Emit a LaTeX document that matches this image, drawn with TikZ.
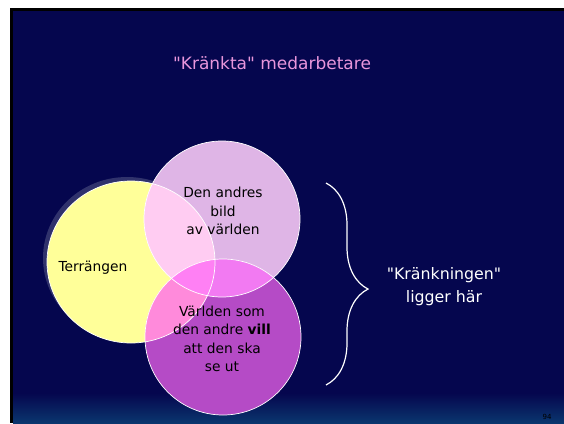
\documentclass[tikz,border=0pt]{standalone}
\usepackage{fontspec}
\setmainfont{DejaVu Sans}
\usepackage{xcolor}
\usepackage{tikz}
\usetikzlibrary{positioning,calc,decorations.pathreplacing}

\definecolor{slidebg}{RGB}{5,6,78}
\definecolor{slidebot}{RGB}{10,54,110}
\definecolor{titlepink}{RGB}{232,150,220}
\definecolor{terrain}{RGB}{255,255,153}
\definecolor{lavender}{RGB}{223,181,230}
\definecolor{wish}{RGB}{181,75,198}
\definecolor{terrlav}{RGB}{255,204,242}
\definecolor{lavwish}{RGB}{242,122,242}
\definecolor{terrwish}{RGB}{255,138,219}
\definecolor{allthree}{RGB}{255,128,244}
\definecolor{shadowc}{RGB}{48,50,108}

\begin{document}
\begin{tikzpicture}[x=1pt,y=-1pt,
    txt/.style={align=center, text=black, font=\fontsize{13.8}{18.5}\selectfont},
    bigtxt/.style={align=center, text=white, font=\fontsize{15.8}{23}\selectfont},
    rim/.style={draw=white, line width=0.7pt},
    bracestyle/.style={draw=white, line width=1.2pt, decorate,
        decoration={brace, amplitude=42pt, aspect=0.525}}]
            \def\Rx{84pt}
            \def\Ry{81pt}
            \def\R{78pt}
            \useasboundingbox (0,0) rectangle (564,423);
            \fill[white] (0,0) rectangle (564,423);
            \fill[black] (10,8) rectangle (564,423);
            \fill[slidebg] (13,11) rectangle (564,423);
            \shade[top color=slidebg, bottom color=slidebot] (13,393) rectangle (564,423);

            \coordinate (Terr) at (131,262);
            \coordinate (Lav) at (222,219);
            \coordinate (Wish) at (223,337);

            \fill[shadowc] ($(Terr)+(-4,-4)$) ellipse [x radius=\Rx, y radius=\Ry];
            \fill[terrain] (Terr) ellipse [x radius=\Rx, y radius=\Ry];
            \fill[lavender] (Lav) circle (\R);
            \fill[wish] (Wish) circle (\R);

            \begin{scope}
                \clip (Terr) ellipse [x radius=\Rx, y radius=\Ry];
                \fill[terrlav] (Lav) circle (\R);
                \fill[terrwish] (Wish) circle (\R);
                \clip (Lav) circle (\R);
                \fill[allthree] (Wish) circle (\R);
            \end{scope}
            \begin{scope}[even odd rule]
                \clip (Terr) ellipse [x radius=\Rx, y radius=\Ry] (0,0) rectangle (564,423);
                \clip (Lav) circle (\R);
                \fill[lavwish] (Wish) circle (\R);
            \end{scope}

            \draw[rim, draw=white!70] (Terr) ellipse [x radius=\Rx, y radius=\Ry];
            \draw[rim] (Lav) circle (\R);
            \draw[rim] (Wish) circle (\R);

            \node (Title) at (272,63) [text=titlepink, font=\fontsize{17}{20}\selectfont] {\textquotedbl Kränkta\textquotedbl\ medarbetare};
            \node (TerrText) at (93,268) [txt] {Terrängen};
            \node (LavText) at (223,211) [txt] {Den andres\\bild\\av världen};
            \node (WishText) at (222,339) [txt] {Världen som\\den andre \textbf{vill}\\att den ska\\se ut};
            \node (Hurt) at (444,287) [bigtxt] {\textquotedbl Kränkningen\textquotedbl\\ligger här};
            \node (PageNo) at (547,417) [font=\fontsize{7}{8}\selectfont, text=black] {94};

            \coordinate (BraceTop) at (326,183);
            \coordinate (BraceBot) at (326,385);
            \draw[bracestyle] (BraceTop) -- (BraceBot);
\end{tikzpicture}
\end{document}
